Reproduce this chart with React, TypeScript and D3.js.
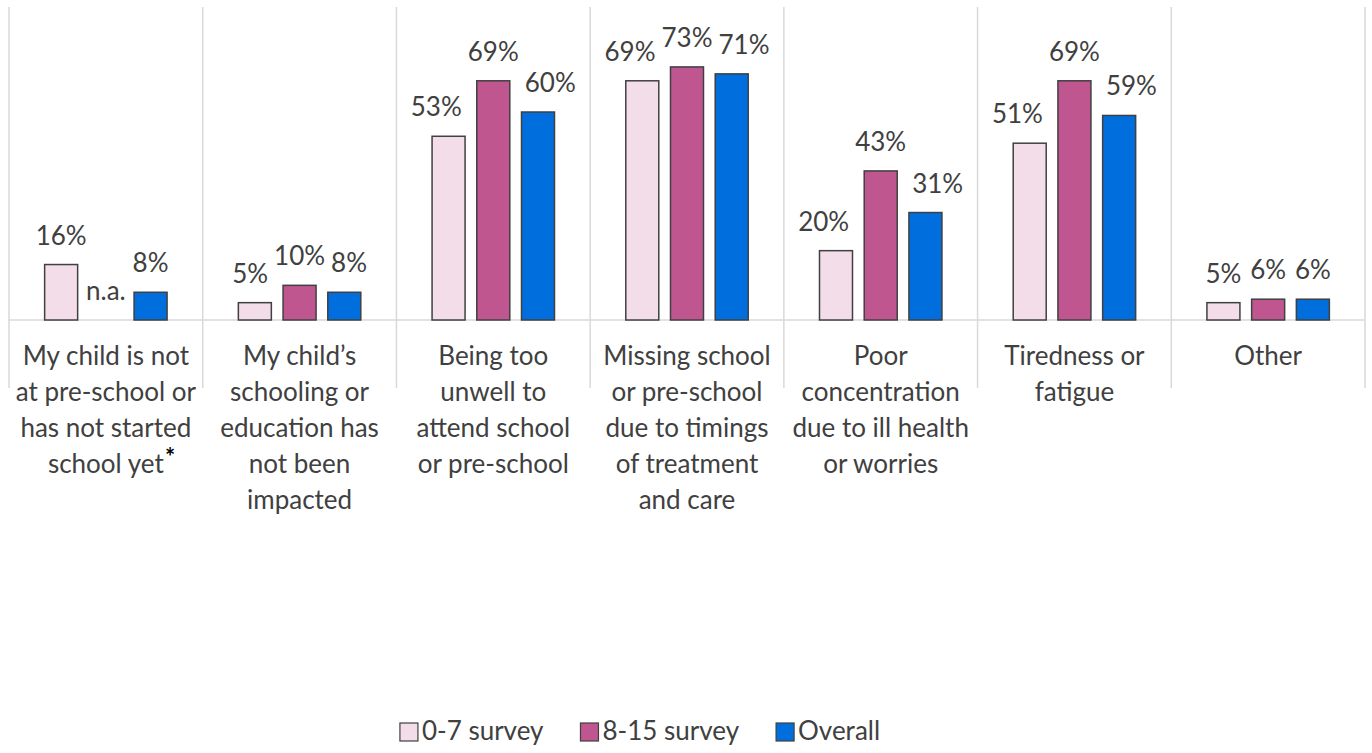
import * as d3 from "d3";

// Categories (x axis) and the wrapped label lines for each
const categories = [
  "not-started",
  "not-impacted",
  "too-unwell",
  "missing",
  "concentration",
  "tiredness",
  "other",
];
const categoryLines = [
  ["My child is not", "at pre-school or", "has not started", "school yet"],
  ["My child’s", "schooling or", "education has", "not been", "impacted"],
  ["Being too", "unwell to", "attend school", "or pre-school"],
  ["Missing school", "or pre-school", "due to timings", "of treatment", "and care"],
  ["Poor", "concentration", "due to ill health", "or worries"],
  ["Tiredness or", "fatigue"],
  ["Other"],
];

const seriesNames = ["0-7 survey", "8-15 survey", "Overall"];
const survey0to7 = [16, 5, 53, 69, 20, 51, 5];
const survey8to15: (number | null)[] = [null, 10, 69, 73, 43, 69, 6];
const overall = [8, 8, 60, 71, 31, 59, 6];
const seriesValues = [survey0to7, survey8to15, overall];
const colors = ["#F3DDE9", "#BF5690", "#006EDC"];

const W = 1372;
const H = 753;
const FONT = "Lato, 'Open Sans', sans-serif";
const FS = 26;
const TEXT = "#404040";
const GRID = "#d9d9d9";

let ctx: CanvasRenderingContext2D | null = null;
const measure = (s: string, size = FS) => {
  if (!ctx) ctx = document.createElement("canvas").getContext("2d");
  if (!ctx) return s.length * size * 0.5;
  ctx.font = `${size}px ${FONT}`;
  return ctx.measureText(s).width;
};

const App = () => {
  const left = 9;
  const right = 1365;
  const top = 7;
  const base = 320;
  const gridBottom = 388;

  const x0 = d3.scaleBand<string>().domain(categories).range([left, right]);
  const x1 = d3
    .scaleBand<string>()
    .domain(seriesNames)
    .range([0, x0.bandwidth()])
    .paddingInner(0.262)
    .paddingOuter(0.797);
  const y = d3.scaleLinear().domain([0, 90]).range([base, 8]);

  // data labels, pushed apart sideways when they crowd each other
  const labels = categories.flatMap((c, ci) => {
    const items = seriesNames.map((s, si) => {
      const v = seriesValues[si][ci];
      const text = v == null ? "n.a." : `${v}%`;
      return {
        key: `${c}-${s}`,
        text,
        na: v == null,
        cx: (x0(c) ?? 0) + (x1(s) ?? 0) + x1.bandwidth() / 2,
        y: y(v ?? 0) - 20,
        w: measure(text),
      };
    });
    const gap = 6;
    const mid = items[1];
    [items[0], items[2]].forEach((it, k) => {
      if (it.na || mid.na) return;
      const need = (it.w + mid.w) / 2 + gap;
      const dist = Math.abs(it.cx - mid.cx);
      if (dist < need) it.cx += (k === 0 ? -1 : 1) * (need - dist);
    });
    return items;
  });

  // legend layout
  const sq = 18;
  const itemGap = 37;
  const widths = seriesNames.map((s) => sq + 4 + measure(s));
  const total = d3.sum(widths) + itemGap * (seriesNames.length - 1);
  let lx = 640 - total / 2;
  const legend = seriesNames.map((s, i) => {
    const item = { s, x: lx, color: colors[i] };
    lx += widths[i] + itemGap;
    return item;
  });

  return (
    <svg
      width={W}
      height={H}
      style={{ position: "absolute", left: 0, top: 0, background: "#fff" }}
      fontFamily={FONT}
    >
      {/* vertical separators */}
      <g stroke={GRID} strokeWidth={1.5}>
        {[...categories.map((c) => x0(c) ?? 0), right].map((gx, i) => (
          <line key={i} x1={gx} x2={gx} y1={top} y2={gridBottom} />
        ))}
        <line x1={left} x2={right} y1={base} y2={base} />
      </g>

      {/* bars */}
      {categories.map((c, ci) => (
        <g key={c} transform={`translate(${x0(c)},0)`}>
          {seriesNames.map((s, si) => {
            const v = seriesValues[si][ci];
            if (v == null) return null;
            return (
              <rect
                key={s}
                x={x1(s)}
                y={y(v)}
                width={x1.bandwidth()}
                height={base - y(v)}
                fill={colors[si]}
                stroke="#404040"
                strokeWidth={1.5}
              />
            );
          })}
        </g>
      ))}

      {/* data labels */}
      <g fill={TEXT} fontSize={FS} textAnchor="middle">
        {labels.map((l) => (
          <text key={l.key} x={l.cx} y={l.y}>
            {l.text}
          </text>
        ))}
      </g>

      {/* category labels */}
      <g fill={TEXT} fontSize={FS} textAnchor="middle">
        {categories.map((c, ci) => {
          const cx = (x0(c) ?? 0) + x0.bandwidth() / 2;
          const lines = categoryLines[ci];
          return (
            <g key={c}>
              {lines.map((ln, li) => (
                <text key={li} x={cx} y={365 + li * 36}>
                  {ln}
                </text>
              ))}
              {ci === 0 && (
                <text
                  x={cx + measure(lines[lines.length - 1]) / 2 + 1}
                  y={365 + (lines.length - 1) * 36 - 7}
                  textAnchor="start"
                  fill="#000"
                  fontWeight="bold"
                  fontSize={24}
                >
                  *
                </text>
              )}
            </g>
          );
        })}
      </g>

      {/* legend */}
      <g fontSize={FS} fill={TEXT}>
        {legend.map((it) => (
          <g key={it.s}>
            <rect
              x={it.x}
              y={723}
              width={sq}
              height={sq}
              fill={it.color}
              stroke="#404040"
              strokeWidth={1.2}
            />
            <text x={it.x + sq + 4} y={740}>
              {it.s}
            </text>
          </g>
        ))}
      </g>
    </svg>
  );
};

export default App;
